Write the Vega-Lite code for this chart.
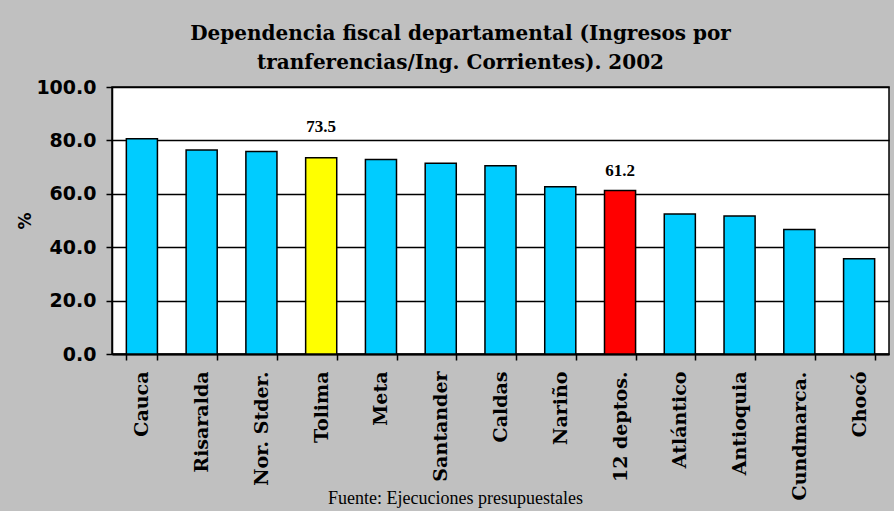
{
  "$schema": "https://vega.github.io/schema/vega-lite/v6.json",
  "width": 777,
  "height": 267,
  "autosize": "none",
  "padding": {"left": 112, "top": 87, "right": 5, "bottom": 157},
  "background": "#c0c0c0",
  "title": {
    "text": ["Dependencia fiscal departamental (Ingresos por", "tranferencias/Ing. Corrientes). 2002"],
    "font": "DejaVu Serif",
    "fontSize": 20,
    "fontWeight": "bold",
    "color": "#000000",
    "lineHeight": 29,
    "anchor": "middle",
    "dx": -40,
    "offset": 5
  },
  "data": {
    "values": [
      {"depto": "Cauca", "valor": 80.6, "tipo": "depto"},
      {"depto": "Risaralda", "valor": 76.4, "tipo": "depto"},
      {"depto": "Nor. Stder.", "valor": 75.8, "tipo": "depto"},
      {"depto": "Tolima", "valor": 73.5, "tipo": "Tolima"},
      {"depto": "Meta", "valor": 72.8, "tipo": "depto"},
      {"depto": "Santander", "valor": 71.4, "tipo": "depto"},
      {"depto": "Caldas", "valor": 70.5, "tipo": "depto"},
      {"depto": "Nariño", "valor": 62.6, "tipo": "depto"},
      {"depto": "12 deptos.", "valor": 61.2, "tipo": "total"},
      {"depto": "Atlántico", "valor": 52.4, "tipo": "depto"},
      {"depto": "Antioquia", "valor": 51.7, "tipo": "depto"},
      {"depto": "Cundmarca.", "valor": 46.6, "tipo": "depto"},
      {"depto": "Chocó", "valor": 35.7, "tipo": "depto"}
    ]
  },
  "encoding": {
    "x": {
      "field": "depto",
      "type": "nominal",
      "sort": null,
      "scale": {"paddingInner": 0.48, "paddingOuter": 0.24},
      "axis": {
        "title": "Fuente: Ejecuciones presupuestales",
        "titleFont": "Liberation Serif",
        "titleFontSize": 18,
        "titleFontWeight": "normal",
        "titleColor": "#000000",
        "titleX": 343,
        "titleY": 149,
        "titleAlign": "center",
        "titleBaseline": "alphabetic",
        "labelAngle": -90,
        "labelAlign": "right",
        "labelBaseline": "middle",
        "labelFont": "DejaVu Serif",
        "labelFontSize": 19,
        "labelFontWeight": "bold",
        "labelColor": "#000000",
        "labelPadding": 11,
        "tickBand": "extent",
        "tickSize": 6,
        "tickColor": "#000000",
        "tickWidth": 1.5,
        "domainColor": "#000000",
        "domainWidth": 2,
        "grid": false
      }
    },
    "y": {
      "field": "valor",
      "type": "quantitative",
      "scale": {"domain": [0, 100], "nice": false},
      "axis": {
        "title": "%",
        "titleFont": "DejaVu Sans",
        "titleFontSize": 17,
        "titleFontWeight": "bold",
        "titleColor": "#000000",
        "titlePadding": 1,
        "values": [0, 20, 40, 60, 80, 100],
        "format": ".1f",
        "labelFont": "DejaVu Sans",
        "labelFontSize": 19,
        "labelFontWeight": "bold",
        "labelColor": "#000000",
        "labelPadding": 10,
        "tickSize": 6,
        "tickColor": "#000000",
        "tickWidth": 1.5,
        "domainColor": "#000000",
        "domainWidth": 1.5,
        "grid": true,
        "gridColor": "#000000",
        "gridWidth": 1.3,
        "gridOpacity": 1
      }
    }
  },
  "layer": [
    {
      "mark": {"type": "bar", "stroke": "#000000", "strokeWidth": 1.5},
      "encoding": {
        "color": {
          "field": "tipo",
          "type": "nominal",
          "scale": {"domain": ["depto", "Tolima", "total"], "range": ["#00ccff", "#ffff00", "#ff0000"]},
          "legend": null
        }
      }
    },
    {
      "transform": [{"filter": "datum.tipo === 'Tolima'"}],
      "mark": {"type": "text", "baseline": "alphabetic", "dy": -26, "font": "Liberation Serif", "fontSize": 17, "fontWeight": "bold", "color": "#000000"},
      "encoding": {"text": {"field": "valor", "type": "quantitative", "format": ".1f"}}
    },
    {
      "transform": [{"filter": "datum.tipo === 'total'"}],
      "mark": {"type": "text", "baseline": "alphabetic", "dy": -15, "font": "Liberation Serif", "fontSize": 17, "fontWeight": "bold", "color": "#000000"},
      "encoding": {"text": {"field": "valor", "type": "quantitative", "format": ".1f"}}
    }
  ],
  "config": {
    "view": {"fill": "#ffffff", "stroke": "#000000", "strokeWidth": 1.5}
  }
}
